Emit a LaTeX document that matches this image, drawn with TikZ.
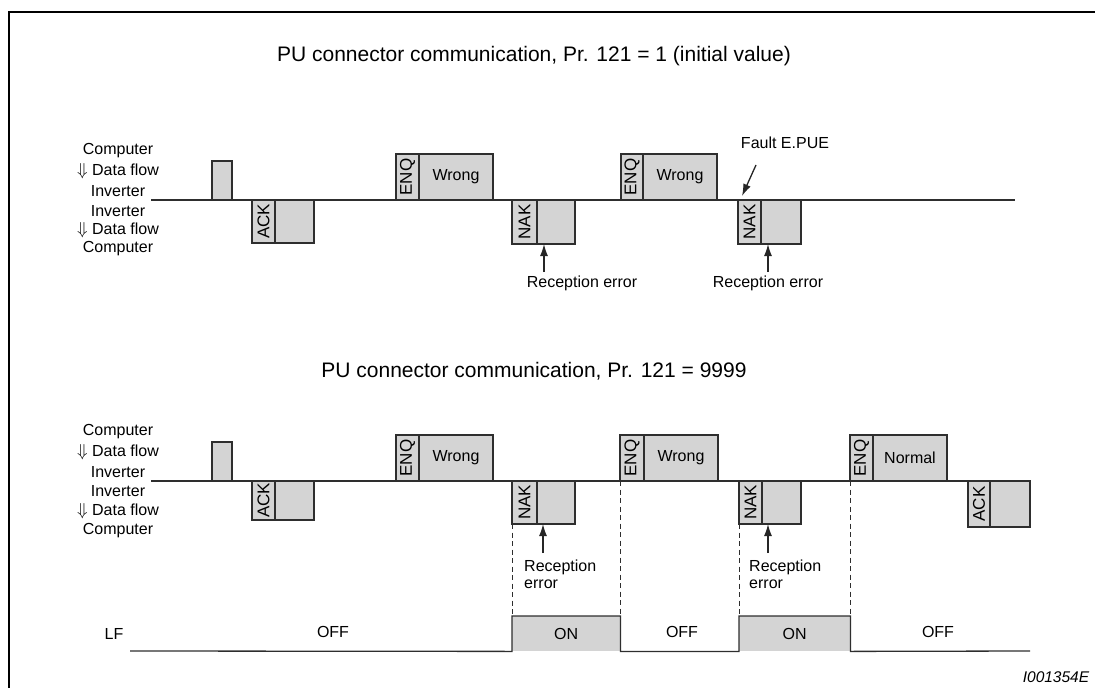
\documentclass[tikz,border=0pt]{standalone}
\usepackage{fontspec}
\setmainfont{Liberation Sans}
\usetikzlibrary{arrows.meta}
\definecolor{linec}{HTML}{2E2E2E}
\definecolor{boxc}{HTML}{D4D4D4}
\begin{document}
\begin{tikzpicture}[x=1pt,y=-1pt,
  cellbox/.style={draw=linec, fill=boxc, line width=1.3pt, inner sep=0pt, outer sep=0pt, anchor=north west},
  lbl/.style={font=\fontsize{16}{17}\selectfont, text=black, inner sep=0pt},
  vlbl/.style={font=\fontsize{17}{18}\selectfont, text=black, inner sep=0pt, rotate=90},
  ttl/.style={font=\fontsize{21}{24}\selectfont, text=black, inner sep=0pt},
  ptr/.style={-{Latex[length=12pt,width=8pt]}, line width=1.3pt, draw=black!85},
  sig/.style={draw=linec, line width=1.3pt},
  guide/.style={draw=linec, dash pattern=on 5pt off 3.5pt, line width=0.9pt},
  lfon/.style={fill=boxc, draw=none, inner sep=0pt, anchor=north west, font=\fontsize{16}{17}\selectfont}
]
\useasboundingbox (0,0) rectangle (1095,688);
% frame
\draw[line width=2pt] (9,688) -- (9,12) -- (1095,12);

% ---------- titles
\node[ttl] (t1) at (534,56) {PU connector communication, Pr. 121 = 1 (initial value)};
\node[ttl] (t2) at (534,371) {PU connector communication, Pr. 121 = 9999};

% ---------- side labels top
\foreach \yy/\tx/\nm in {151/Computer/ta, 171/{$\Downarrow$ Data flow}/tb, 191/Inverter/tc, 211/Inverter/td, 230/{$\Downarrow$ Data flow}/te, 249/Computer/tf}
  \node[lbl] (\nm) at (118,\yy) {\tx};
\foreach \yy/\tx/\nm in {432/Computer/ba, 452/{$\Downarrow$ Data flow}/bb, 472/Inverter/bc, 491/Inverter/bd, 511/{$\Downarrow$ Data flow}/be, 531/Computer/bf}
  \node[lbl] (\nm) at (118,\yy) {\tx};

% ---------- top timeline
\coordinate (baseAl) at (151,200);
\coordinate (baseAr) at (1015,200);
\draw[sig] (baseAl) -- (baseAr);

\node[cellbox, minimum width=20pt, minimum height=39pt] (pulseA) at (212,161) {};

\node[cellbox, minimum width=23pt, minimum height=43pt] (ackAc) at (252,200) {};
\node[cellbox, minimum width=39pt, minimum height=43pt] (ackAb) at (275,200) {};
\node[vlbl] at (ackAc.center) {ACK};

\node[cellbox, minimum width=23pt, minimum height=46pt] (enqA1c) at (396,154) {};
\node[cellbox, minimum width=74pt, minimum height=46pt] (enqA1b) at (419,154) {};
\node[vlbl] at (enqA1c.center) {ENQ};
\node[lbl] at (enqA1b.center) {Wrong};

\node[cellbox, minimum width=25pt, minimum height=44pt] (nakA1c) at (512,200) {};
\node[cellbox, minimum width=38pt, minimum height=44pt] (nakA1b) at (537,200) {};
\node[vlbl] at (nakA1c.center) {NAK};

\node[cellbox, minimum width=22pt, minimum height=46pt] (enqA2c) at (621,154) {};
\node[cellbox, minimum width=74pt, minimum height=46pt] (enqA2b) at (643,154) {};
\node[vlbl] at (enqA2c.center) {ENQ};
\node[lbl] at (enqA2b.center) {Wrong};

\node[cellbox, minimum width=23pt, minimum height=44pt] (nakA2c) at (738,200) {};
\node[cellbox, minimum width=40pt, minimum height=44pt] (nakA2b) at (761,200) {};
\node[vlbl] at (nakA2c.center) {NAK};

\node[lbl] (reA1) at (582,283) {Reception error};
\coordinate (arA1) at (544,272);
\draw[ptr] (arA1) -- (arA1 |- nakA1b.south);
\node[lbl] (reA2) at (768,283) {Reception error};
\coordinate (arA2) at (768,272);
\draw[ptr] (arA2) -- (arA2 |- nakA2b.south);

\node[lbl] (fault) at (785,143) {Fault E.PUE};
\coordinate (fs) at (756,165);
\coordinate (fe) at (742,196);
\draw[ptr] (fs) -- (fe);

% ---------- bottom timeline
\coordinate (baseBl) at (151,481);
\coordinate (baseBr) at (1015,481);
\draw[sig] (baseBl) -- (baseBr);

% dashed guides
\draw[guide] (512,524) -- (512,616);
\draw[guide] (620,481) -- (620,616);
\draw[guide] (739,524) -- (739,616);
\draw[guide] (850,481) -- (850,616);

\node[cellbox, minimum width=20pt, minimum height=39pt] (pulseB) at (212,442) {};

\node[cellbox, minimum width=23pt, minimum height=39pt] (ackB1c) at (252,481) {};
\node[cellbox, minimum width=39pt, minimum height=39pt] (ackB1b) at (275,481) {};
\node[vlbl] at (ackB1c.center) {ACK};

\node[cellbox, minimum width=23pt, minimum height=46pt] (enqB1c) at (396,435) {};
\node[cellbox, minimum width=74pt, minimum height=46pt] (enqB1b) at (419,435) {};
\node[vlbl] at (enqB1c.center) {ENQ};
\node[lbl] at (enqB1b.center) {Wrong};

\node[cellbox, minimum width=25pt, minimum height=43pt] (nakB1c) at (512,481) {};
\node[cellbox, minimum width=38pt, minimum height=43pt] (nakB1b) at (537,481) {};
\node[vlbl] at (nakB1c.center) {NAK};

\node[cellbox, minimum width=24pt, minimum height=46pt] (enqB2c) at (620,435) {};
\node[cellbox, minimum width=74pt, minimum height=46pt] (enqB2b) at (644,435) {};
\node[vlbl] at (enqB2c.center) {ENQ};
\node[lbl] at (enqB2b.center) {Wrong};

\node[cellbox, minimum width=23pt, minimum height=43pt] (nakB2c) at (739,481) {};
\node[cellbox, minimum width=39pt, minimum height=43pt] (nakB2b) at (762,481) {};
\node[vlbl] at (nakB2c.center) {NAK};

\node[cellbox, minimum width=23pt, minimum height=46pt] (enqB3c) at (850,435) {};
\node[cellbox, minimum width=74pt, minimum height=46pt] (enqB3b) at (873,435) {};
\node[vlbl] at (enqB3c.center) {ENQ};
\node[lbl] at (enqB3b.center) {Normal};

\node[cellbox, minimum width=22pt, minimum height=46pt] (ackB2c) at (968,481) {};
\node[cellbox, minimum width=40pt, minimum height=46pt] (ackB2b) at (990,481) {};
\node[vlbl] at (ackB2c.center) {ACK};

\node[lbl, anchor=west, align=left] (reB1) at (524,574.5) {Reception\\error};
\coordinate (arB1) at (543,553);
\draw[ptr] (arB1) -- (arB1 |- nakB1b.south);
\node[lbl, anchor=west, align=left] (reB2) at (749,574.5) {Reception\\error};
\coordinate (arB2) at (768,553);
\draw[ptr] (arB2) -- (arB2 |- nakB2b.south);

% ---------- LF signal
\node[lfon, minimum width=108pt, minimum height=35pt] (on1) at (512,616) {ON};
\node[lfon, minimum width=111pt, minimum height=35pt] (on2) at (739,616) {ON};
\draw[sig] (130,651) -- (on1.south west) -- (on1.north west) -- (on1.north east) -- (on1.south east)
  -- (on2.south west) -- (on2.north west) -- (on2.north east) -- (on2.south east) -- (1030,651);
\node[lbl] (lf) at (114,634) {LF};
\node[lbl] (off1) at (333,632) {OFF};
\node[lbl] (off2) at (682,632) {OFF};
\node[lbl] (off3) at (938,632) {OFF};

\node[lbl, font=\fontsize{15.5}{17}\itshape] (ref) at (1056,677) {I001354E};
\end{tikzpicture}
\end{document}
